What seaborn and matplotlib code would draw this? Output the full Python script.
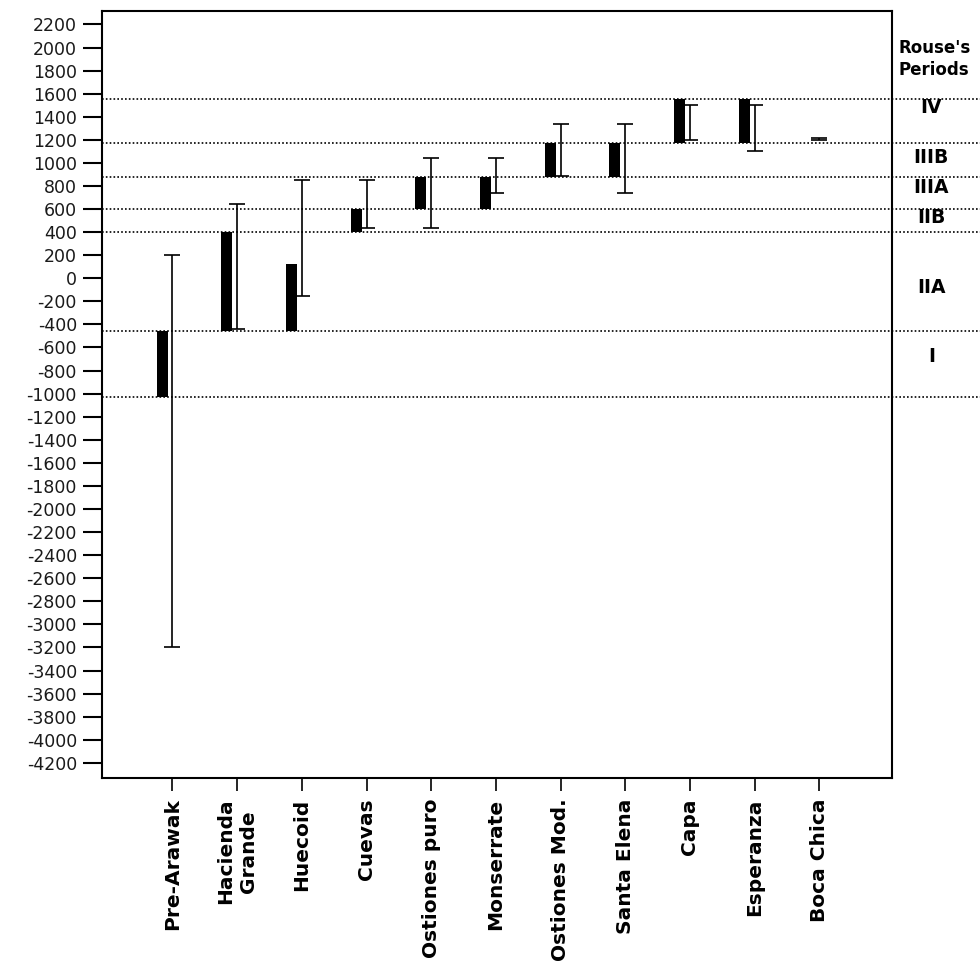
import numpy as np
import pandas as pd
import matplotlib
matplotlib.use("Agg")
import matplotlib.pyplot as plt
import seaborn as sns

# ---- data ----
categories = ["Pre-Arawak", "Hacienda\nGrande", "Huecoid", "Cuevas", "Ostiones puro",
              "Monserrate", "Ostiones Mod.", "Santa Elena", "Capa", "Esperanza", "Boca Chica"]
bar_low  = [-1030, -460, -460, 400, 600, 600, 880, 880, 1170, 1170, np.nan]
bar_high = [-460, 400, 120, 600, 880, 880, 1170, 1170, 1550, 1550, np.nan]
int_low  = [-3200, -440, -150, 440, 440, 735, 890, 735, 1200, 1100, 1195]
int_high = [200, 640, 850, 850, 1040, 1040, 1340, 1340, 1500, 1500, 1215]
period_bounds = [1550, 1170, 880, 600, 400, -460, -1030]
period_labels = ["IV", "IIIB", "IIIA", "IIB", "IIA", "I"]
period_label_y = [1480, 1050, 787, 527, -80, -680]
yticks = list(range(-4200, 2201, 200))

df = pd.DataFrame({"cat": categories,
                   "height": (np.array(bar_high) - np.array(bar_low)),
                   "low": bar_low}).fillna(0)

sns.set_style("white")
plt.rcParams["font.family"] = ["DejaVu Sans"]
plt.rcParams["text.color"] = "black"
plt.rcParams["xtick.color"] = "black"
plt.rcParams["ytick.color"] = "black"

fig = plt.figure(figsize=(9.8, 9.65), dpi=100)
ax = fig.add_axes([0.104, 0.194, 0.806, 0.795])

sns.barplot(data=df, x="cat", y="height", order=categories, bottom=df["low"].values,
            color="black", width=0.17, errorbar=None, ax=ax, saturation=1,
            edgecolor="black", linewidth=0)
for p in ax.patches:
    p.set_x(p.get_x() - 0.16)

idx = np.arange(len(categories))
lo = np.array(int_low, dtype=float)
hi = np.array(int_high, dtype=float)
ax.errorbar(idx, lo, yerr=[np.zeros_like(lo), hi - lo], fmt="none",
            ecolor="black", elinewidth=1.2, capsize=5.5, capthick=1.2, zorder=3)

# period boundaries (extend to the right edge of the figure)
for b in period_bounds:
    ax.axhline(b, xmin=0, xmax=1.112, color="black", lw=1.2,
               linestyle=(0, (1, 1.3)), clip_on=False, zorder=1)

ax.set_xlim(-1.09, 11.12)
ax.set_ylim(-4330, 2320)
ax.set_yticks(yticks)
ax.set_yticklabels([str(t) for t in yticks], fontsize=12.5, color="#1a1a1a")
ax.set_xticks(idx)
ax.set_xticklabels(categories, rotation=90, fontsize=14.5, fontweight="bold",
                   va="top", ha="center", multialignment="center", color="black")
ax.set_xlabel("")
ax.set_ylabel("")
ax.tick_params(axis="y", direction="out", length=14, width=1.5, pad=4, left=True)
ax.tick_params(axis="x", direction="out", length=9, width=1.2, pad=6, bottom=True)
for s in ax.spines.values():
    s.set_visible(True)
    s.set_color("black")
    s.set_linewidth(1.5)

# right-hand period labels
tr = ax.get_yaxis_transform()
xlab = 1.05
ax.text(1.008, 1900, "Rouse's\nPeriods", transform=tr, ha="left", va="center",
        fontsize=12, fontweight="bold", linespacing=1.3, color="black")
for m, lab in zip(period_label_y, period_labels):
    ax.text(xlab, m, lab, transform=tr, ha="center", va="center",
            fontsize=13.5, fontweight="bold", color="black")

fig.savefig("out.png", dpi=100, facecolor="white")
